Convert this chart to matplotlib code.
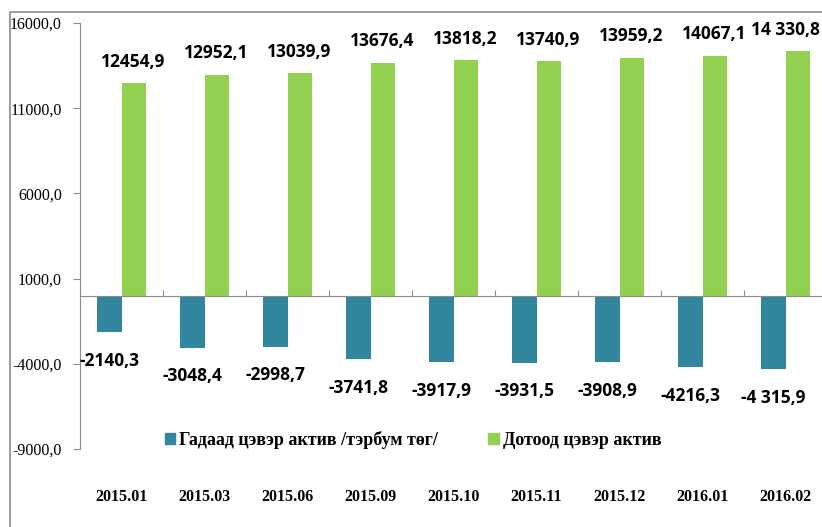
import numpy as np
import matplotlib
matplotlib.use("Agg")
import matplotlib.pyplot as plt
from matplotlib.patches import Patch, Rectangle
import matplotlib.transforms as mtrans

categories = ['2015.01', '2015.03', '2015.06', '2015.09', '2015.10',
              '2015.11', '2015.12', '2016.01', '2016.02']
external = [-2140.3, -3048.4, -2998.7, -3741.8, -3917.9, -3931.5, -3908.9, -4216.3, -4315.9]
domestic = [12454.9, 12952.1, 13039.9, 13676.4, 13818.2, 13740.9, 13959.2, 14067.1, 14330.8]
external_labels = ['-2140,3', '-3048,4', '-2998,7', '-3741,8', '-3917,9',
                   '-3931,5', '-3908,9', '-4216,3', '-4 315,9']
domestic_labels = ['12454,9', '12952,1', '13039,9', '13676,4', '13818,2',
                   '13740,9', '13959,2', '14067,1', '14 330,8']
yticks = [-9000, -4000, 1000, 6000, 11000, 16000]
legend_names = ['Гадаад цэвэр актив /тэрбум төг/', 'Дотоод цэвэр актив']

blue = '#31859C'
green = '#92D050'
grey = '#8c8c8c'
serif = 'Liberation Serif'
sans = 'Open Sans'

fig = plt.figure(figsize=(8.22, 5.27), dpi=100)
W, H = 822.0, 527.0
ax = fig.add_axes([80 / W, 1 - 449 / H, 747 / W, 426 / H])

x = np.arange(len(categories))
bw = 0.29
ax.bar(x - bw / 2, external, bw, color=blue)
ax.bar(x + bw / 2, domestic, bw, color=green)

for xi, v, lab in zip(x, external, external_labels):
    ax.annotate(lab, (xi - bw / 2, v), xytext=(0, -14), textcoords='offset points',
                ha='center', va='top', fontsize=12.5, fontweight='bold', family=sans)
for i, (xi, v, lab) in enumerate(zip(x, domestic, domestic_labels)):
    dx = -9 if i == len(categories) - 1 else 0
    ax.annotate(lab, (xi + bw / 2, v), xytext=(dx, 9), textcoords='offset points',
                ha='center', va='bottom', fontsize=12.5, fontweight='bold', family=sans)

ax.set_xlim(-0.5, len(categories) - 0.5)
ax.set_ylim(-9000, 16000)
ax.set_yticks(yticks)
ax.set_yticklabels(['%d,0' % t for t in yticks], family=serif, fontsize=11.5)

ax.spines['top'].set_visible(False)
ax.spines['right'].set_visible(False)
ax.spines['left'].set_color(grey)
ax.spines['bottom'].set_color(grey)
ax.spines['bottom'].set_position(('data', 0))
ax.tick_params(axis='y', colors=grey, length=5, labelcolor='black', pad=8)
ax.set_xticks(np.arange(len(categories) + 1) - 0.5)
ax.set_xticklabels([])
ax.tick_params(axis='x', colors=grey, direction='in', length=4)

trans = mtrans.blended_transform_factory(ax.transData, fig.transFigure)
for xi, c in zip(x, categories):
    ax.text(xi, 1 - 497 / H, c, transform=trans, ha='center', va='center',
            family=serif, fontweight='bold', fontsize=11.5)

handles = [Patch(color=blue), Patch(color=green)]
fig.legend(handles, legend_names, loc='center', bbox_to_anchor=(413 / W, 1 - 440 / H),
           ncol=2, frameon=False, handlelength=0.6, handleheight=0.6, handletextpad=0.2,
           columnspacing=2.8, prop={'family': serif, 'weight': 'bold', 'size': 13})

fig.patches.append(Rectangle((10 / W, -0.1), 1.2, 1.1 - 12 / H, transform=fig.transFigure,
                             fill=False, edgecolor=grey, lw=1.2))

fig.savefig('out.png', dpi=100)
